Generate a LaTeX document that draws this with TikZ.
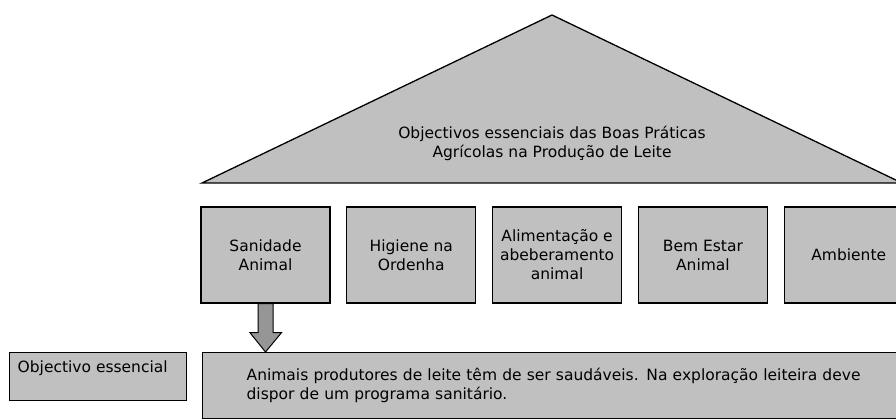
\documentclass[tikz,border=0pt]{standalone}
\usepackage{fontspec}
\setmainfont{DejaVu Sans}
\usetikzlibrary{positioning,calc}
\definecolor{silver}{RGB}{192,192,192}
\definecolor{arrowgrey}{RGB}{150,150,150}
\newcommand{\boxfont}{\fontsize{15.5}{19}\selectfont}

\begin{document}
\begin{tikzpicture}[x=1pt, y=-1pt,
    panel/.style={draw, fill=silver, line width=1.3pt, font=\boxfont},
    pillar/.style={panel, minimum width=129pt, minimum height=96pt,
      inner sep=0pt, align=center},
    bigarrow/.style={draw, fill=arrowgrey, line width=1pt, line join=miter}]
  \useasboundingbox (0,0) rectangle (896,419);
  \clip (0,0) rectangle (896,419);

  % roof
  \coordinate (tl) at (202,183);
  \coordinate (apex) at (552,15);
  \coordinate (tr) at (902,183);
  \draw[panel] (tl) -- (apex) -- (tr) -- cycle;
  \node[font=\boxfont, align=center] (rooftext) at (552,143)
    {Objectivos essenciais das Boas Práticas\\Agrícolas na Produção de Leite};

  % pillars
  \node[pillar] (b1) at (265.5,255) {Sanidade\\Animal};
  \node[pillar, right=15.5pt of b1] (b2) {Higiene na\\Ordenha};
  \node[pillar, right=15.5pt of b2] (b3) {Alimentação e\\abeberamento\\animal};
  \node[pillar, right=15.5pt of b3] (b4) {Bem Estar\\Animal};
  \node[pillar, right=15.5pt of b4] (b5) {Ambiente};

  % goal
  \node[panel, anchor=north west, inner sep=8pt] (goallabel) at (9,352)
    {\parbox[c][32pt][t]{161pt}{Objectivo essencial}};
  \node[panel, anchor=north west, minimum width=728pt, minimum height=66pt,
    inner xsep=44pt, text width=640pt, align=left] (goal) at (202,352)
    {Animais produtores de leite têm de ser saudáveis. Na exploração leiteira deve\\
     dispor de um programa sanitário.};

  % arrow from pillar to goal
  \draw[bigarrow] ($(b1.south)+(-7.5,0)$) -- ++(0,29) -- ++(-8,0)
    -- (b1.south |- goal.north) -- ($(b1.south)+(16,29)$)
    -- ++(-8.5,0) -- ($(b1.south)+(7.5,0)$) -- cycle;
\end{tikzpicture}
\end{document}
